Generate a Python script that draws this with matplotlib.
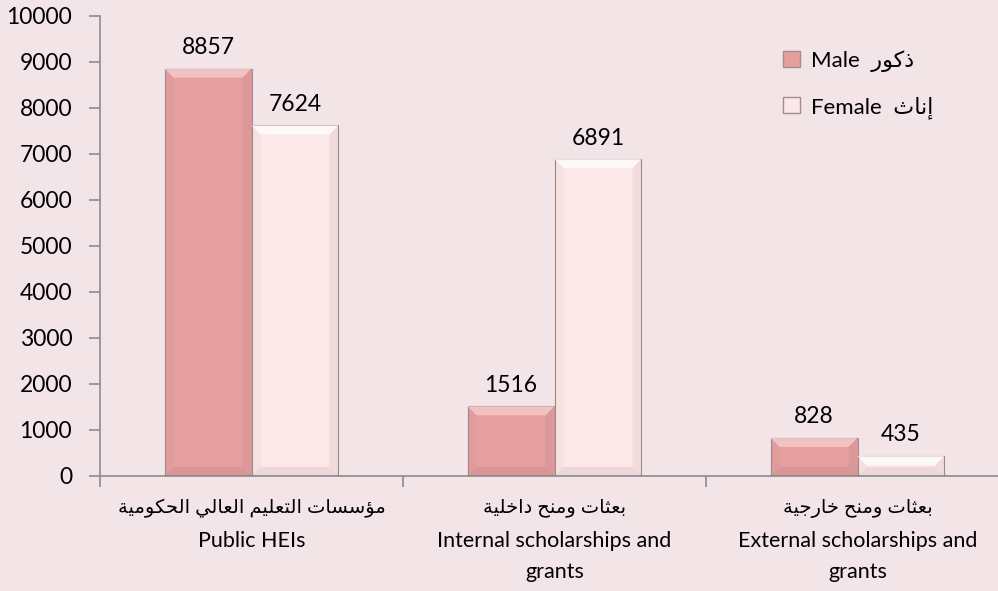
import matplotlib
matplotlib.use('Agg')
import matplotlib.pyplot as plt
import numpy as np
from matplotlib.patches import Patch, Polygon

plt.rcParams['font.family'] = ['Lato', 'DejaVu Sans']

# data
cats_ar = ['مؤسسات التعليم العالي الحكومية', 'بعثات ومنح داخلية', 'بعثات ومنح خارجية']
cats_en = [['Public HEIs'], ['Internal scholarships and', 'grants'], ['External scholarships and', 'grants']]
series_en = ['Male', 'Female']
series_ar = ['ذكور', 'إناث']
male = [8857, 1516, 828]
female = [7624, 6891, 435]
colors = ['#E59F9F', '#FCE8E8']
bg = '#F3E4E8'

# arabic letters -> (isolated, final, initial, medial)
FORMS = {
    'ا': ('\uFE8D', '\uFE8E', None, None),
    'إ': ('\uFE87', '\uFE88', None, None),
    'ؤ': ('\uFE85', '\uFE86', None, None),
    'ة': ('\uFE93', '\uFE94', None, None),
    'د': ('\uFEA9', '\uFEAA', None, None),
    'ذ': ('\uFEAB', '\uFEAC', None, None),
    'ر': ('\uFEAD', '\uFEAE', None, None),
    'و': ('\uFEED', '\uFEEE', None, None),
    'ب': ('\uFE8F', '\uFE90', '\uFE91', '\uFE92'),
    'ت': ('\uFE95', '\uFE96', '\uFE97', '\uFE98'),
    'ث': ('\uFE99', '\uFE9A', '\uFE9B', '\uFE9C'),
    'ج': ('\uFE9D', '\uFE9E', '\uFE9F', '\uFEA0'),
    'ح': ('\uFEA1', '\uFEA2', '\uFEA3', '\uFEA4'),
    'خ': ('\uFEA5', '\uFEA6', '\uFEA7', '\uFEA8'),
    'س': ('\uFEB1', '\uFEB2', '\uFEB3', '\uFEB4'),
    'ع': ('\uFEC9', '\uFECA', '\uFECB', '\uFECC'),
    'ك': ('\uFED9', '\uFEDA', '\uFEDB', '\uFEDC'),
    'ل': ('\uFEDD', '\uFEDE', '\uFEDF', '\uFEE0'),
    'م': ('\uFEE1', '\uFEE2', '\uFEE3', '\uFEE4'),
    'ن': ('\uFEE5', '\uFEE6', '\uFEE7', '\uFEE8'),
    'ي': ('\uFEF1', '\uFEF2', '\uFEF3', '\uFEF4'),
}

def shape(s):
    out = []
    for i, c in enumerate(s):
        if c not in FORMS:
            out.append(c)
            continue
        prev = s[i-1] if i > 0 else ''
        nxt = s[i+1] if i + 1 < len(s) else ''
        jp = prev in FORMS and FORMS[prev][2] is not None
        jn = FORMS[c][2] is not None and nxt in FORMS
        iso, fin, ini, med = FORMS[c]
        if jp and jn:
            out.append(med)
        elif jp:
            out.append(fin)
        elif jn:
            out.append(ini)
        else:
            out.append(iso)
    return ''.join(reversed(out))

W, H = 998, 591
fig = plt.figure(figsize=(W/100, H/100), dpi=100, facecolor=bg)
ax = fig.add_axes([100/W, 115/H, 898/W, 460/H])
ax.set_facecolor(bg)

x = np.arange(len(cats_ar))
bw = 0.287
b1 = ax.bar(x - bw/2, male, bw, color=colors[0], edgecolor='#a08c8c', linewidth=0.8, zorder=2)
b2 = ax.bar(x + bw/2, female, bw, color=colors[1], edgecolor='#a08c8c', linewidth=0.8, zorder=2)

ax.set_xlim(-0.5, -0.5 + 898/303)
ax.set_ylim(0, 10000)
ax.set_yticks(np.arange(0, 10001, 1000))
ax.set_xticks([-0.5, 0.5, 1.5])
ax.set_xticklabels([])
for s in ['top', 'right']:
    ax.spines[s].set_visible(False)
for s in ['left', 'bottom']:
    ax.spines[s].set_color('#8c8c8c')
    ax.spines[s].set_linewidth(1.2)
ax.tick_params(axis='y', direction='out', length=8, color='#8c8c8c', width=1.2, labelsize=16.5, pad=12)
ax.tick_params(axis='x', direction='out', length=8, color='#8c8c8c', width=1.2)

# bevel on bars
inv = ax.transData.inverted()
def bevel(rect, light):
    x0, y0 = ax.transData.transform((rect.get_x(), 0))
    x1, y1 = ax.transData.transform((rect.get_x() + rect.get_width(), rect.get_height()))
    b = min(9, (y1 - y0) / 2)
    top = [(x0, y1), (x1, y1), (x1 - b, y1 - b), (x0 + b, y1 - b)]
    bot = [(x0, y0), (x1, y0), (x1 - b, y0 + b), (x0 + b, y0 + b)]
    lft = [(x0, y0), (x0 + b, y0 + b), (x0 + b, y1 - b), (x0, y1)]
    rgt = [(x1, y0), (x1 - b, y0 + b), (x1 - b, y1 - b), (x1, y1)]
    for pts, col, a in [(top, light, 0.75), (bot, '#7a4a4a', 0.10), (lft, '#7a4a4a', 0.04), (rgt, '#7a4a4a', 0.08)]:
        ax.add_patch(Polygon(inv.transform(pts), closed=True, facecolor=col, alpha=a, edgecolor='none', zorder=3))

for r in b1:
    bevel(r, '#F6CFCF')
for r in b2:
    bevel(r, '#FFFFFF')

for bars, vals in [(b1, male), (b2, female)]:
    for r, v in zip(bars, vals):
        ax.annotate(str(v), (r.get_x() + r.get_width()/2, v), xytext=(0, 21),
                    textcoords='offset pixels', ha='center', va='center', fontsize=16.5)

# category labels
for i in x:
    ax.annotate(shape(cats_ar[i]), (i, 0), xycoords=('data', 'axes fraction'), xytext=(0, -32),
                textcoords='offset pixels', ha='center', va='center', fontsize=14)
    for j, line in enumerate(cats_en[i]):
        ax.annotate(line, (i, 0), xycoords=('data', 'axes fraction'), xytext=(0, -65 - 31*j),
                    textcoords='offset pixels', ha='center', va='center', fontsize=15.5)

handles = [Patch(facecolor=c, edgecolor='#a08c8c') for c in colors]
labels = [en + '  ' + shape(ar) for en, ar in zip(series_en, series_ar)]
fig.legend(handles, labels, loc='upper left', bbox_to_anchor=(763/W, 1 - 30/H), frameon=False,
           fontsize=16, handlelength=0.75, handleheight=0.75, handletextpad=0.5, labelspacing=1.1)

fig.savefig('out.png', dpi=100, facecolor=bg)
